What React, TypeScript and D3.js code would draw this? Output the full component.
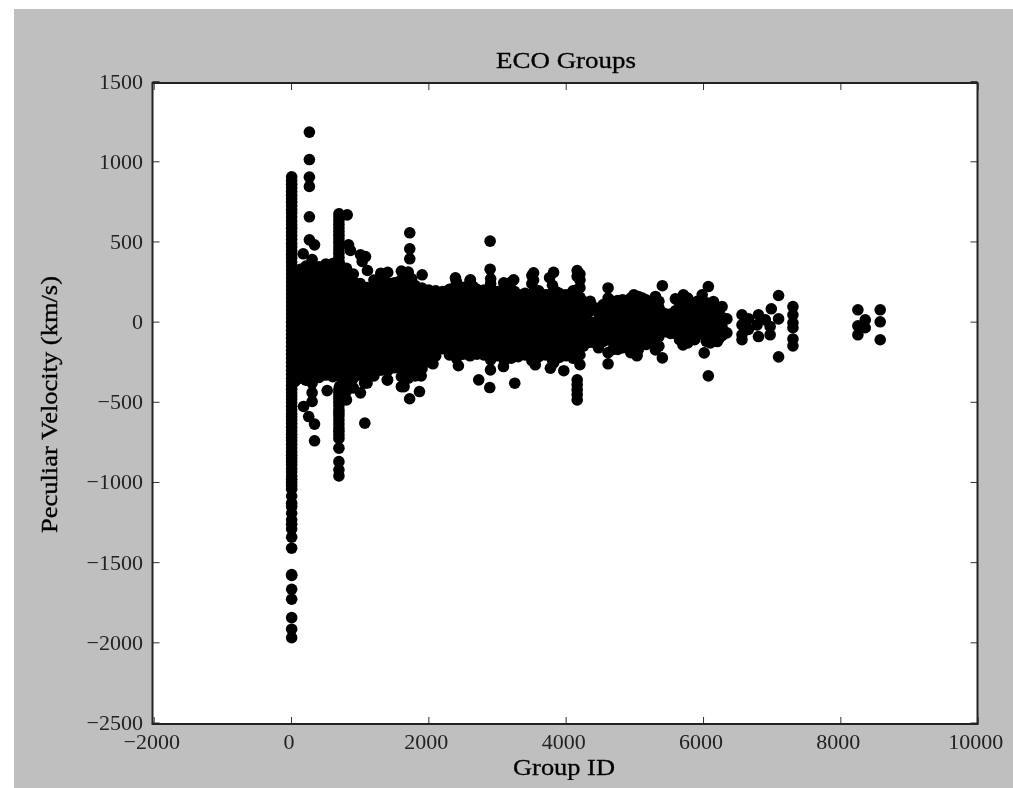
import React from "react";
import * as d3 from "d3";

const xTicks = [-2000, 0, 2000, 4000, 6000, 8000, 10000];
const yTicks = [-2500, -2000, -1500, -1000, -500, 0, 500, 1000, 1500];

// Tall spike of group 0
const spikeZeroVelocity = [-1968, -1915, -1843, -1728, -1666, -1580, -1574, -1410, -1341, -1290, -1260, -1233, -1192, -1150, -1129, -1085, -1042, -1020, -1000, -980, -960, -935, -915, -890, -870, -850, -830, -808, -785, -762, -740, -720, -700, -678, -655, -632, -610, -590, -570, -548, -525, -502, -480, -460, -440, -418, -395, -372, -350, -325, -300, -275, -250, -225, -200, -175, -150, -125, -100, -75, -50, -25, 0, 25, 50, 75, 100, 125, 150, 175, 200, 225, 250, 275, 300, 325, 350, 375, 400, 422, 445, 468, 490, 515, 540, 562, 585, 608, 630, 655, 680, 702, 725, 748, 770, 792, 815, 838, 860, 883, 906];

// Second tall spike near group 690
const spikeSevenHundredVelocity = [-959, -921, -870, -786, -725, -703, -680, -660, -635, -610, -585, -565, -547, -522, -500, -480, -460, -440, -420, 380, 405, 430, 452, 475, 498, 520, 542, 565, 588, 610, 632, 655, 676];

// Densely filled columns: group id, then velocities read from the cloud
const denseIds = [50, 130, 210, 300, 400, 500, 600, 700, 800, 900, 1000, 1100, 1200, 1300, 1400, 1500, 1600, 1700, 1800, 1900, 2000, 2100, 2200, 2300, 2400, 2500, 2600, 2700, 2800, 2900, 3000, 3100, 3200, 3300, 3400, 3500, 3600, 3700, 3800, 3900, 4000, 4100, 4200,
  150, 250, 350, 450, 550, 650, 750, 850, 950, 1050, 1150, 1250, 1350, 1450, 1550, 1650, 1750, 1850, 1950, 2050, 2150, 2250, 2350, 2450, 2550, 2650, 2750, 2850, 2950, 3050, 3150, 3250, 3350, 3450, 3550, 3650, 3750, 3850, 3950, 4050, 4150, 4250,
  4300, 4420, 4540, 4680, 4820, 4940, 5050, 5160, 5250, 5350, 5450, 5520, 5650, 5770, 5870, 6040, 6100, 6230];
const denseVelocities = [
  [-370, -312, -250, -190, -131, -72, -10, 48, 110, 168, 230, 285],
  [-350, -290, -228, -170, -112, -50, 12, 70, 128, 190, 250, 305, 330],
  [-362, -300, -242, -180, -121, -60, 2, 60, 122, 180, 240, 300, 350],
  [-495, -440, -380, -320, -262, -200, -140, -80, -22, 38, 98, 158, 220, 280, 340, 390],
  [-345, -288, -228, -170, -110, -52, 8, 68, 126, 188, 246, 300, 345],
  [-330, -270, -210, -150, -90, -30, 30, 90, 150, 210, 270, 330, 362],
  [-340, -282, -222, -160, -102, -40, 18, 78, 140, 198, 260, 318, 365],
  [-400, -340, -280, -220, -160, -100, -40, 20, 80, 140, 200, 260, 320, 358],
  [-485, -430, -372, -312, -250, -192, -130, -72, -10, 50, 110, 170, 230, 290, 335],
  [-410, -350, -288, -230, -168, -110, -50, 10, 68, 130, 190, 250, 300],
  [-330, -272, -212, -150, -92, -30, 28, 90, 150, 208, 240],
  [-380, -320, -262, -200, -140, -80, -22, 38, 98, 158, 215],
  [-335, -275, -215, -155, -95, -35, 25, 85, 145, 205, 262],
  [-300, -240, -182, -120, -62, 0, 58, 120, 180, 240, 305],
  [-360, -302, -242, -180, -122, -60, -2, 58, 118, 178, 238, 310],
  [-285, -225, -165, -105, -45, 15, 75, 135, 195, 245],
  [-402, -340, -280, -220, -160, -100, -40, 20, 80, 140, 200, 260, 318],
  [-350, -290, -230, -170, -110, -50, 10, 70, 130, 190, 250, 312],
  [-335, -272, -212, -152, -92, -32, 28, 88, 148, 200, 228],
  [-290, -230, -170, -110, -50, 10, 70, 130, 190, 212],
  [-248, -190, -130, -70, -10, 50, 110, 170, 200],
  [-210, -160, -100, -40, 20, 80, 140, 195],
  [-165, -110, -50, 10, 70, 130, 190],
  [-205, -145, -85, -25, 35, 95, 155, 205],
  [-225, -165, -105, -45, 15, 75, 135, 195, 255],
  [-200, -140, -80, -20, 40, 100, 160, 215],
  [-210, -155, -95, -35, 25, 85, 145, 205, 260],
  [-200, -140, -80, -20, 40, 100, 160, 205],
  [-205, -155, -95, -35, 25, 85, 145, 200],
  [-235, -175, -115, -55, 5, 65, 125, 185, 240, 270],
  [-210, -150, -90, -30, 30, 90, 150, 190],
  [-240, -180, -120, -60, 0, 60, 120, 180, 238],
  [-225, -165, -105, -45, 15, 75, 135, 195, 250],
  [-215, -155, -95, -35, 25, 85, 145, 170],
  [-205, -145, -85, -25, 35, 95, 155, 180],
  [-240, -180, -120, -60, 0, 60, 120, 180, 240, 290],
  [-215, -155, -95, -35, 25, 85, 145, 195],
  [-205, -145, -85, -25, 35, 95, 155, 170],
  [-235, -175, -115, -55, 5, 65, 125, 185, 230],
  [-220, -160, -100, -40, 20, 80, 140, 180],
  [-210, -150, -90, -30, 30, 90, 150, 170],
  [-225, -165, -105, -45, 15, 75, 135, 195],
  [-265, -205, -145, -85, -25, 35, 95, 155, 215, 262, 300],
  // in-between columns
  [-300, -240, -180, -120, -60, 0, 60, 120, 180, 240, 290],
  [-340, -280, -220, -160, -100, -40, 20, 80, 140, 200, 260, 300],
  [-330, -270, -210, -150, -90, -30, 30, 90, 150, 210, 270, 330],
  [-310, -250, -190, -130, -70, -10, 50, 110, 170, 230, 290, 320],
  [-300, -240, -180, -120, -60, 0, 60, 120, 180, 240, 300, 320],
  [-310, -250, -190, -130, -70, -10, 50, 110, 170, 230, 290, 320],
  [-330, -270, -210, -150, -90, -30, 30, 90, 150, 210, 270, 310],
  [-350, -290, -230, -170, -110, -50, 10, 70, 130, 190, 250, 290],
  [-310, -250, -190, -130, -70, -10, 50, 110, 170, 230, 240],
  [-310, -250, -190, -130, -70, -10, 50, 110, 170, 210],
  [-300, -240, -180, -120, -60, 0, 60, 120, 180, 210],
  [-280, -220, -160, -100, -40, 20, 80, 140, 200, 240],
  [-280, -220, -160, -100, -40, 20, 80, 140, 200, 270],
  [-270, -210, -150, -90, -30, 30, 90, 150, 210, 240],
  [-280, -220, -160, -100, -40, 20, 80, 140, 200, 250],
  [-310, -250, -190, -130, -70, -10, 50, 110, 170, 230, 280],
  [-300, -240, -180, -120, -60, 0, 60, 120, 180, 240, 270],
  [-290, -230, -170, -110, -50, 10, 70, 130, 200],
  [-230, -170, -110, -50, 10, 70, 130, 190],
  [-210, -150, -90, -30, 30, 90, 150, 180],
  [-150, -95, -35, 25, 85, 145, 170],
  [-160, -100, -40, 20, 80, 140, 180],
  [-190, -130, -70, -10, 50, 110, 170, 210],
  [-200, -140, -80, -20, 40, 100, 160, 220],
  [-190, -130, -70, -10, 50, 110, 170, 220],
  [-190, -130, -70, -10, 50, 110, 170, 220],
  [-190, -130, -70, -10, 50, 110, 170, 190],
  [-200, -140, -80, -20, 40, 100, 160, 190],
  [-200, -140, -80, -20, 40, 100, 160, 190],
  [-200, -140, -80, -20, 40, 100, 160, 190],
  [-210, -150, -90, -30, 30, 90, 150, 210],
  [-210, -150, -90, -30, 30, 90, 150, 190],
  [-190, -130, -70, -10, 50, 110, 160],
  [-200, -140, -80, -20, 40, 100, 170],
  [-210, -150, -90, -30, 30, 90, 150, 190],
  [-190, -130, -70, -10, 50, 110, 170],
  [-190, -130, -70, -10, 50, 110, 170],
  [-210, -150, -90, -30, 30, 90, 150, 190],
  [-190, -130, -70, -10, 50, 110, 160],
  [-200, -140, -80, -20, 40, 100, 170],
  [-210, -150, -90, -30, 30, 90, 150, 200],
  [-150, -90, -30, 30, 90, 130],
  // thinning cloud past 4300
  [-130, -75, -15, 45, 100],
  [-130, -40, 0, 90],
  [-120, -60, 0, 60, 110],
  [-170, -110, -50, 10, 70, 130],
  [-160, -100, -40, 20, 80, 140],
  [-190, -130, -70, -10, 50, 110, 150],
  [-170, -110, -50, 10, 70, 130, 160],
  [-140, -80, -20, 40, 100, 140],
  [-130, -70, -10, 50, 110],
  [-150, -90, -30, 30, 90, 130],
  [-60, 0, 50],
  [-70, -10, 50],
  [-110, -50, 10, 70, 120],
  [-130, -70, -10, 50, 110, 150],
  [-110, -50, 10, 70, 120],
  [-120, -60, 0, 60, 120],
  [-130, -70, -10, 50, 110],
  [-100, -40, 20, 80],
];

// Isolated and sparse points read one at a time
const sparseIds = [260, 260, 260, 260, 260, 260, 335, 170, 175, 250, 335, 335, 419, 811, 830, 858, 1004, 1077, 1029, 1106, 1722, 1722, 1722, 1902, 2387, 519, 1067, 1063, 1004, 1393, 1639, 1720, 1863, 1888, 2060, 2430, 2726, 2887, 2897, 3251, 3086, 2892, 2605, 2892, 3090, 3236, 3525, 3525, 3816, 3758, 4160, 4160, 4160, 4160, 4160, 4160, 4160, 3550, 3770, 3816, 3965,
  4350, 4350, 4350, 4350, 4350, 4470, 4470, 4470, 4470, 4610, 4610, 4610, 4610, 4610, 4610, 4610, 4610, 4750, 4750, 4750, 4750, 4750, 4750, 4880, 4880, 4880, 4880, 4880, 4880, 4985, 4985, 4985, 4985, 4985, 4985, 5030, 5030, 5110, 5110, 5110, 5110, 5110, 5200, 5200, 5200, 5200, 5300, 5300, 5300, 5300, 5300, 5400, 5400, 5400,
  5590, 5590, 5590, 5590, 5707, 5707, 5707, 5707, 5707, 5700, 5830, 5830, 5830, 5830, 5910, 5910, 5910, 5910, 5980, 5980, 5980, 5980, 6010, 6070, 6070, 6075, 6145, 6145, 6145, 6145, 6145, 6170, 6270, 6270, 6270, 6270, 6340, 6340, 6200,
  6560, 6560, 6560, 6560, 6655, 6655, 6800, 6800, 6900, 6970, 6970, 6780, 7093, 7093, 7093, 6987, 7302, 7302, 7302, 7302, 7302, 7302, 8248, 8248, 8248, 8355, 8355, 8573, 8573, 8573];
const sparseVelocities = [1185, 1014, 904, 846, 657, 513, 482, 426, -526, -589, -636, -740, 295, 669, 482, 447, 420, 409, 378, 322, 557, 457, 395, 295, 276, -427, -630, -380, -441, -360, -402, -478, -433, -335, -260, -272, -360, -408, -298, -381, -277, 505, 264, 330, 245, 264, 307, 262, 310, 277, 322, 285, -485, -452, -422, -390, -360, -266, -287, -255, -303,
  130, 70, -20, -90, -125, 60, 10, -100, -160, 213, 150, 90, 30, -40, -110, -190, -260, 135, 70, 0, -70, -130, -170, 120, 60, -10, -80, -140, -150, 170, 105, 40, -30, -100, -160, -204, -210, 150, 80, 10, -60, -120, 120, 40, -30, -100, 160, 90, 20, -50, -173, 227, 60, -223,
  145, 70, 0, -70, 170, 100, 30, -40, -100, -142, 110, 40, -30, -90, 130, 60, -10, -80, 170, 95, 20, -60, -192, 222, -335, 50, 120, 60, -10, -70, 128, -50, 97, 30, -30, -85, 20, -67, -121,
  46, -17, -79, -110, 20, -45, 46, -90, 14, -79, -27, -17, 166, -217, 20, 83, 97, 46, -4, -35, -105, -148, 77, -23, -79, 14, -35, 77, 2, -110];

const xScale = d3.scaleLinear().domain([-2000, 10000]).range([154.2, 978.2]);
const yScale = d3.scaleLinear().domain([-2500, 1500]).range([723, 81.6]);

const SPINE = { left: 152.5, right: 977.5, top: 83, bottom: 724 };
const fontFamily = "'Liberation Serif', serif";
const fmt = (v: number) => (v < 0 ? "\u2212" + Math.abs(v) : String(v));

export default function App() {
  const points: [number, number][] = [];
  spikeZeroVelocity.forEach((v) => points.push([2, v]));
  spikeSevenHundredVelocity.forEach((v) => points.push([690, v]));
  denseIds.forEach((id, i) => denseVelocities[i].forEach((v) => points.push([id, v])));
  sparseIds.forEach((id, i) => points.push([id, sparseVelocities[i]]));

  return (
    <svg
      width={1013}
      height={788}
      style={{ position: "absolute", left: 0, top: 0, background: "#fff", display: "block" }}
    >
      <defs>
        <filter id="soft" x="0" y="0" width="100%" height="100%">
          <feGaussianBlur stdDeviation="0.75" />
        </filter>
      </defs>
      <rect x={14} y={9} width={999} height={779} fill="#bfbfbf" />
      <g filter="url(#soft)">
        <rect
          x={SPINE.left}
          y={SPINE.top}
          width={SPINE.right - SPINE.left}
          height={SPINE.bottom - SPINE.top}
          fill="#fff"
        />
        {points.map(([x, y], i) => (
          <circle key={i} cx={xScale(x)} cy={yScale(y)} r={5.8} fill="#000" />
        ))}
        <g stroke="#333" strokeWidth={1}>
          {xTicks.map((t) => (
            <g key={t}>
              <line x1={xScale(t)} x2={xScale(t)} y1={SPINE.bottom} y2={SPINE.bottom - 7} />
              <line x1={xScale(t)} x2={xScale(t)} y1={SPINE.top} y2={SPINE.top + 7} />
            </g>
          ))}
          {yTicks.map((t) => (
            <g key={t}>
              <line x1={SPINE.left} x2={SPINE.left + 7} y1={yScale(t)} y2={yScale(t)} />
              <line x1={SPINE.right} x2={SPINE.right - 7} y1={yScale(t)} y2={yScale(t)} />
            </g>
          ))}
        </g>
        <rect
          x={SPINE.left}
          y={SPINE.top}
          width={SPINE.right - SPINE.left}
          height={SPINE.bottom - SPINE.top}
          fill="none"
          stroke="#222"
          strokeWidth={2}
        />
        <g fontFamily={fontFamily} fontSize={22} fill="#222">
          {xTicks.map((t) => (
            <text key={t} x={xScale(t) - 2.5} y={749} textAnchor="middle">
              {fmt(t)}
            </text>
          ))}
          {yTicks.map((t) => (
            <text key={t} x={143} y={yScale(t) + 7} textAnchor="end">
              {fmt(t)}
            </text>
          ))}
        </g>
        <g fontFamily={fontFamily} fontSize={23} fill="#000" stroke="#000" strokeWidth={0.3}>
          <text x={496} y={68} textLength={140} lengthAdjust="spacingAndGlyphs">ECO Groups</text>
          <text x={513} y={775} textLength={102} lengthAdjust="spacingAndGlyphs">Group ID</text>
          <text
            transform="translate(57,533) rotate(-90)"
            textLength={257}
            lengthAdjust="spacingAndGlyphs"
          >
            Peculiar Velocity (km/s)
          </text>
        </g>
      </g>
    </svg>
  );
}
